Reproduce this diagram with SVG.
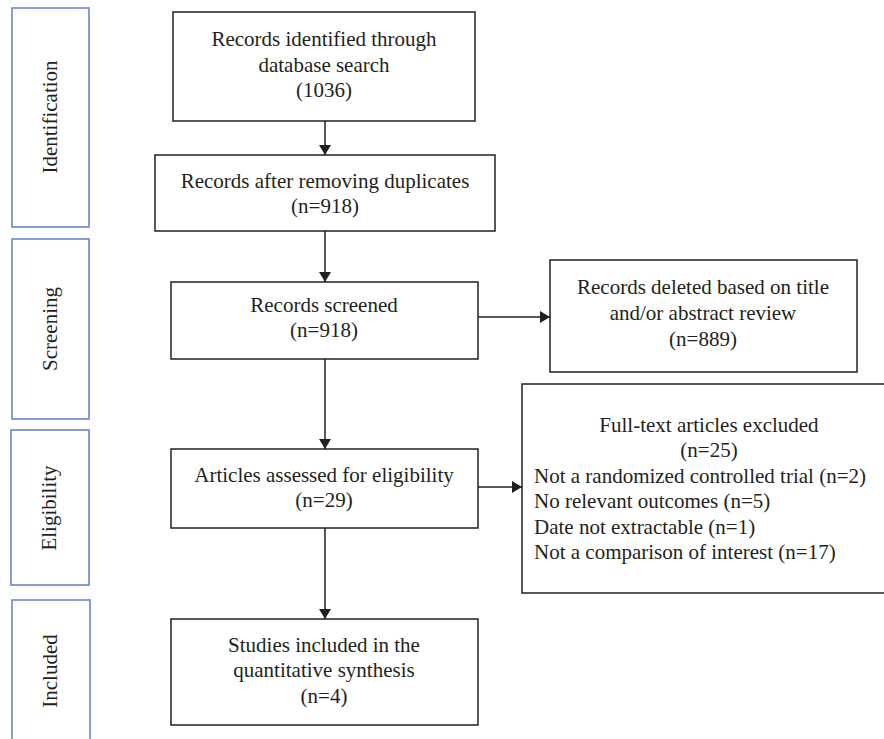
<svg xmlns="http://www.w3.org/2000/svg" width="884" height="739" viewBox="0 0 884 739">
<style>
text{font-family:"Liberation Serif","Times New Roman",serif;font-size:21px;fill:#231f20}
.c{text-anchor:middle}
.box{fill:#fff;stroke:#231f20;stroke-width:1.5}
.stage{fill:#fff;stroke:#7b94d0;stroke-width:1.8}
.ln{stroke:#231f20;stroke-width:1.5;fill:none}
</style>
<defs>
<marker id="ah" viewBox="0 0 10 12" refX="10" refY="6" markerWidth="10" markerHeight="12" markerUnits="userSpaceOnUse" orient="auto">
<path d="M0,0 L10,6 L0,12 Z" fill="#231f20"/>
</marker>
</defs>
<rect width="884" height="739" fill="#fff"/>
<g id="stage-identification">
<rect class="stage" x="12" y="8" width="77" height="219"/>
<text class="c" transform="translate(57,117) rotate(-90)">Identification</text>
</g>
<g id="stage-screening">
<rect class="stage" x="12" y="239" width="77" height="180"/>
<text class="c" transform="translate(57,329) rotate(-90)">Screening</text>
</g>
<g id="stage-eligibility">
<rect class="stage" x="11" y="430" width="78" height="155"/>
<text class="c" transform="translate(56,508) rotate(-90)">Eligibility</text>
</g>
<g id="stage-included">
<rect class="stage" x="12" y="600" width="78" height="160"/>
<text class="c" transform="translate(57,671) rotate(-90)">Included</text>
</g>
<g id="connectors">
<line class="ln" x1="325" y1="121" x2="325" y2="155" marker-end="url(#ah)"/>
<line class="ln" x1="325" y1="231" x2="325" y2="282" marker-end="url(#ah)"/>
<line class="ln" x1="325" y1="359" x2="325" y2="449" marker-end="url(#ah)"/>
<line class="ln" x1="325" y1="528" x2="325" y2="619" marker-end="url(#ah)"/>
<line class="ln" x1="478" y1="317" x2="550" y2="317" marker-end="url(#ah)"/>
<line class="ln" x1="478" y1="487" x2="522" y2="487" marker-end="url(#ah)"/>
</g>
<g id="n-identified">
<rect class="box" x="173" y="12" width="302" height="109"/>
<text class="c" x="324" y="46">Records identified through</text>
<text class="c" x="324" y="72">database search</text>
<text class="c" x="324" y="97">(1036)</text>
</g>
<g id="n-dedup">
<rect class="box" x="155" y="155" width="340" height="76"/>
<text class="c" x="325" y="188">Records after removing duplicates</text>
<text class="c" x="325" y="213">(n=918)</text>
</g>
<g id="n-screened">
<rect class="box" x="171" y="282" width="307" height="77"/>
<text class="c" x="324" y="312">Records screened</text>
<text class="c" x="324" y="337">(n=918)</text>
</g>
<g id="n-deleted">
<rect class="box" x="550" y="260" width="307" height="112"/>
<text class="c" x="703" y="294">Records deleted based on title</text>
<text class="c" x="703" y="320">and/or abstract review</text>
<text class="c" x="703" y="346">(n=889)</text>
</g>
<g id="n-assessed">
<rect class="box" x="171" y="449" width="307" height="79"/>
<text class="c" x="324" y="482">Articles assessed for eligibility</text>
<text class="c" x="324" y="507">(n=29)</text>
</g>
<g id="n-excluded">
<rect class="box" x="522" y="384" width="380" height="209"/>
<text class="c" x="709" y="432">Full-text articles excluded</text>
<text class="c" x="709" y="457">(n=25)</text>
<text x="534" y="483">Not a randomized controlled trial (n=2)</text>
<text x="534" y="508">No relevant outcomes (n=5)</text>
<text x="534" y="534">Date not extractable (n=1)</text>
<text x="534" y="559">Not a comparison of interest (n=17)</text>
</g>
<g id="n-included">
<rect class="box" x="171" y="619" width="307" height="106"/>
<text class="c" x="324" y="652">Studies included in the</text>
<text class="c" x="324" y="677">quantitative synthesis</text>
<text class="c" x="324" y="703">(n=4)</text>
</g>
</svg>
